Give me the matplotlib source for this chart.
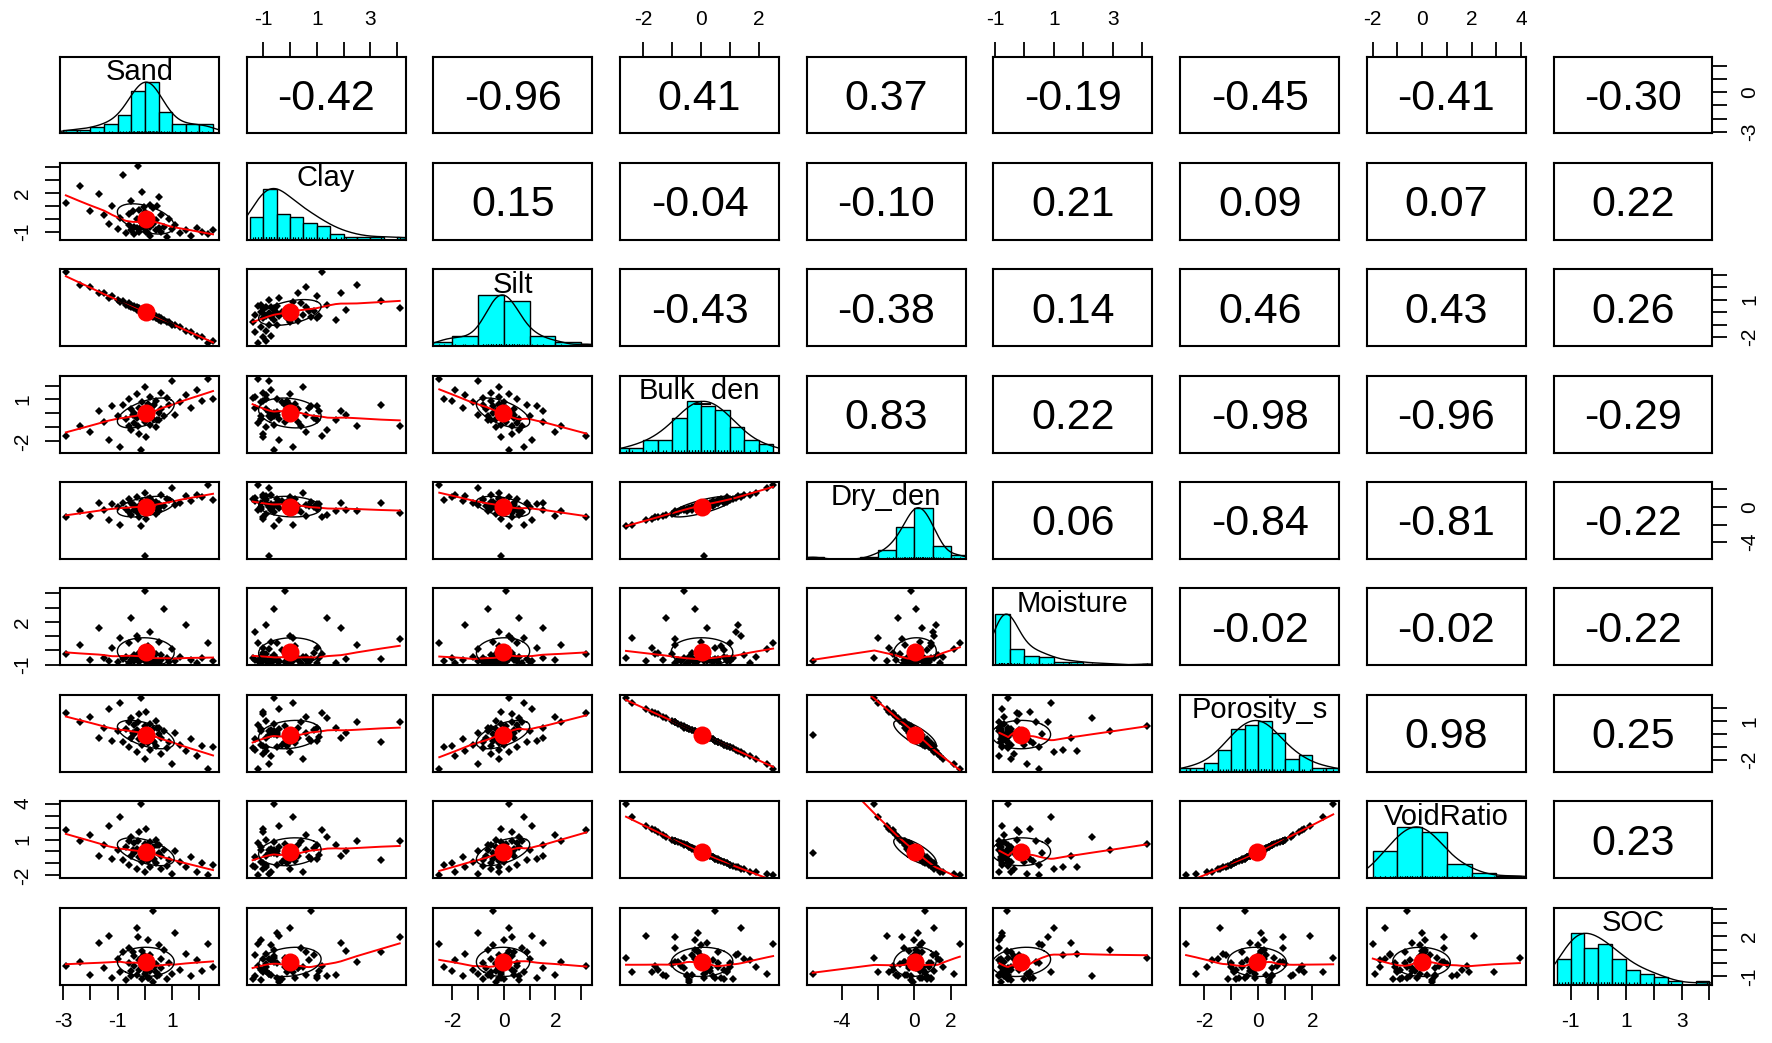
import numpy as np
import matplotlib.pyplot as plt

plt.rcParams['font.family'] = ['Liberation Sans', 'DejaVu Sans']

names = ["Sand", "Clay", "Silt", "Bulk_den", "Dry_den", "Moisture", "Porosity_s", "VoidRatio", "SOC"]

# standardised values, one list per variable
sand = [-2.9, -2.4, -2.0, -1.7, -1.5, -1.3, -1.2, -1.0, -0.9, -0.8,
        -0.7, -0.6, -0.6, -0.5, -0.5, -0.4, -0.4, -0.3, -0.3, -0.2,
        -0.2, -0.1, -0.1, 0.0, 0.0, 0.0, 0.1, 0.1, 0.2, 0.2,
        0.2, 0.3, 0.3, 0.4, 0.4, 0.5, 0.5, 0.6, 0.6, 0.7,
        0.8, 0.9, 1.0, 1.1, 1.3, 1.5, 1.7, 1.9, 2.1, 2.3,
        2.5, -0.05, 0.15, -0.25, 0.35, -0.45, 0.05, 0.25, -0.15, 0.45]
clay = [1.2, 2.5, 0.6, 1.9, 0.3, -0.4, 1.0, -0.8, 0.1, 3.4,
        -1.1, -0.5, 0.4, -0.9, 1.4, -0.6, -1.2, 0.0, -0.7, 0.7,
        -1.0, -0.3, 2.1, -0.8, -0.2, 0.5, -1.1, 0.2, -0.6, 1.1,
        -1.3, -0.4, 0.8, -0.9, -0.1, -0.7, 1.7, -1.0, 0.3, -0.6,
        -1.4, 0.0, -0.8, -0.5, -1.1, -0.9, -1.3, -0.7, -1.0, -1.2,
        -0.9, 0.9, -0.5, 4.1, -0.2, 0.6, -1.0, 0.1, -0.6, 1.0]
silt = [3.2, 2.2, 2.0, 1.5, 1.5, 1.1, 1.3, 1.0, 0.8, 0.9,
        0.6, 0.5, 0.7, 0.4, 0.6, 0.3, 0.5, 0.2, 0.4, 0.1,
        0.3, 0.0, 0.2, -0.1, 0.1, -0.2, 0.0, -0.2, -0.1, -0.3,
        -0.2, -0.3, -0.4, -0.3, -0.5, -0.4, -0.6, -0.5, -0.7, -0.6,
        -0.8, -0.8, -1.0, -1.0, -1.2, -1.5, -1.6, -1.9, -2.0, -2.5,
        -2.3, 0.1, -0.1, 0.3, -0.2, 0.4, -0.1, -0.3, 0.2, -0.5]
bulk_den = [-1.6, -0.9, -1.3, 0.2, -0.6, -1.9, 0.5, -0.2, -2.4, 0.6,
            -0.4, 1.0, -0.9, 0.3, -1.2, 0.0, -0.7, 1.4, -0.3, 0.4,
            -1.5, 0.8, -0.1, 0.1, -0.6, 1.9, -0.2, 0.7, -0.8, 0.2,
            1.2, -0.4, 0.5, -1.0, 0.9, 0.0, -0.5, 1.5, 0.3, -0.2,
            1.1, 0.6, 2.3, -0.1, 0.8, 1.3, 0.4, 1.7, 0.9, 2.5,
            1.0, -0.3, 0.1, -0.9, 0.6, -0.1, -1.7, 0.2, -2.6, -0.5]
dry_den = [-1.2, -0.5, -1.0, 0.4, -0.3, -1.5, 0.3, 0.0, -2.0, 0.4,
           -0.2, 0.9, -0.6, 0.5, -0.9, 0.2, -0.3, 1.1, -0.4, 0.1,
           -1.2, 0.7, -0.3, -5.6, -0.2, 1.6, 0.0, 0.9, -0.6, 0.3,
           1.0, -0.1, 0.6, -0.8, 0.6, 0.3, -0.5, 1.3, 0.1, 0.1,
           0.9, 0.8, 2.2, 0.2, 0.5, 1.2, 0.7, 1.4, 1.1, 2.5,
           0.8, 0.0, 0.4, -0.7, 0.5, 0.2, -1.4, -0.1, -2.2, -0.2]
moisture = [-0.25, 0.4, -0.7, 1.6, -0.55, -0.75, 0.2, -0.8, 0.9, -0.6,
            -0.45, 0.5, -0.85, -0.7, 2.3, -0.35, -0.75, 1.0, -0.55, -0.8,
            -0.2, 0.0, -0.6, -0.75, 4.15, -0.45, -0.85, 0.3, -0.7, -0.55,
            1.3, -0.8, -0.6, -0.25, -0.75, 0.6, -0.85, -0.35, -0.7, 2.9,
            -0.55, -0.8, 0.1, -0.75, -0.45, 1.8, -0.7, -0.85, -0.55, 0.5,
            -0.75, -0.2, -0.6, 0.8, -0.8, -0.45, 0.2, -0.75, -0.55, -0.85]
porosity_s = [1.6, 0.9, 1.3, -0.3, 0.5, 1.9, -0.5, 0.2, 2.4, -0.6,
              0.4, -1.0, 0.9, -0.3, 1.2, 0.0, 0.7, -1.4, 0.3, -0.4,
              1.5, -0.8, 0.1, -0.1, 0.6, -1.9, 0.2, -0.7, 0.8, -0.2,
              -1.2, 0.4, -0.5, 1.0, -0.9, 0.0, 0.5, -1.5, -0.3, 0.2,
              -1.1, -0.6, -2.3, 0.1, -0.8, -1.3, -0.4, -1.7, -0.9, -2.66,
              -1.0, 0.3, -0.1, 0.9, -0.6, 0.1, 1.7, -0.2, 2.77, 0.5]
void_ratio = [1.8, 0.9, 1.4, -0.4, 0.5, 2.1, -0.6, 0.1, 2.9, -0.7,
              0.4, -1.1, 0.9, -0.4, 1.2, -0.1, 0.7, -1.5, 0.2, -0.5,
              1.6, -0.9, 0.0, -0.1, 0.6, -1.7, 0.1, -0.8, 0.8, -0.3,
              -1.3, 0.4, -0.6, 1.0, -1.0, -0.1, 0.5, -1.5, -0.4, 0.1,
              -1.2, -0.7, -1.9, 0.0, -0.9, -1.3, -0.5, -1.7, -1.0, -2.0,
              -1.1, 0.3, -0.2, 0.9, -0.6, 0.1, 1.9, -0.2, 3.96, 0.5]
soc = [-0.2, 0.1, -0.9, 1.5, -0.4, 2.0, -1.1, 0.3, -0.7, 0.8,
       -1.3, 0.0, 1.1, -0.6, -1.0, 0.5, -0.2, 2.6, -0.9, 0.2,
       -0.5, -1.2, 0.9, -0.8, 0.4, -0.3, 1.7, -1.1, 0.1, -0.6,
       0.6, -1.4, 3.9, -0.1, -0.7, 1.3, -0.9, 0.3, -0.4, 1.0,
       -1.2, 0.0, -0.8, 2.2, -0.5, 0.7, -1.0, 0.2, -0.6, 1.4,
       -0.3, 0.6, -1.1, 1.9, -0.3, 0.8, -0.7, 0.0, 0.4, -1.0]

data = [np.array(v) for v in [sand, clay, silt, bulk_den, dry_den, moisture, porosity_s, void_ratio, soc]]

# correlations printed in the upper panels, row by row
cor_text = [
    ["-0.42", "-0.96", "0.41", "0.37", "-0.19", "-0.45", "-0.41", "-0.30"],
    ["0.15", "-0.04", "-0.10", "0.21", "0.09", "0.07", "0.22"],
    ["-0.43", "-0.38", "0.14", "0.46", "0.43", "0.26"],
    ["0.83", "0.22", "-0.98", "-0.96", "-0.29"],
    ["0.06", "-0.84", "-0.81", "-0.22"],
    ["-0.02", "-0.02", "-0.22"],
    ["0.98", "0.25"],
    ["0.23"],
]

# axis ticks of each variable and which of them carry a label
ticks = [range(-3, 3), range(-1, 5), range(-2, 4), range(-2, 3), [-4, -2, 0, 2],
         range(-1, 5), range(-2, 3), range(-2, 5), range(-1, 5)]
x_shown = [[-3, -1, 1], [-1, 1, 3], [-2, 0, 2], [-2, 0, 2], [-4, 0, 2],
           [-1, 1, 3], [-2, 0, 2], [-2, 0, 2, 4], [-1, 1, 3]]
y_shown = [[-3, 0], [-1, 2], [-2, 1], [-2, 1], [-4, 0],
           [-1, 2], [-2, 1], [-2, 1, 4], [-1, 2]]
bin_width = [0.5, 0.5, 1.0, 0.5, 1.0, 0.5, 0.5, 1.0, 0.5]


def lowess(x, y, f=2/3, it=3):
    o = np.argsort(x)
    x = x[o]
    y = y[o]
    n = len(x)
    r = int(np.ceil(f * n))
    h = np.array([np.sort(np.abs(x - x[i]))[r - 1] for i in range(n)])
    h = np.maximum(h, 1e-9)
    w = np.clip(np.abs(x[None, :] - x[:, None]) / h[:, None], 0, 1)
    w = (1 - w ** 3) ** 3
    delta = np.ones(n)
    yest = np.zeros(n)
    for _ in range(it + 1):
        for i in range(n):
            wi = w[i] * delta
            sw = wi.sum()
            mx = (wi * x).sum() / sw
            my = (wi * y).sum() / sw
            vx = (wi * (x - mx) ** 2).sum()
            if vx > 1e-12:
                b = (wi * (x - mx) * (y - my)).sum() / vx
            else:
                b = 0.0
            yest[i] = my + b * (x[i] - mx)
        res = y - yest
        s = np.median(np.abs(res))
        if s == 0:
            break
        d = np.clip(res / (6 * s), -1, 1)
        delta = (1 - d ** 2) ** 2
    return x, yest


nv = len(names)
lims = []
for v in data:
    span = v.max() - v.min()
    lims.append((v.min() - 0.04 * span, v.max() + 0.04 * span))

W, H = 1772, 1043
fig = plt.figure(figsize=(W / 100, H / 100), dpi=100)

x0, dx, pw = 60, 186.7, 158.9
y0, dy, ph = 56.5, 106.4, 76.9

for i in range(nv):
    for j in range(nv):
        ax = fig.add_axes([(x0 + j * dx) / W, 1 - (y0 + i * dy + ph) / H, pw / W, ph / H])
        ax.set_xlim(lims[j])
        ax.set_ylim(lims[i])
        ax.set_xticks([])
        ax.set_yticks([])
        for sp in ax.spines.values():
            sp.set_linewidth(1.5)

        if i == j:
            v = data[i]
            lo, hi = lims[i]
            w = bin_width[i]
            edges = np.arange(np.floor(v.min() / w) * w, np.ceil(v.max() / w) * w + w / 2, w)
            counts, edges = np.histogram(v, bins=edges)
            heights = counts / counts.max() / 1.5 * (hi - lo)
            ax.bar(edges[:-1], heights, width=w, align='edge', bottom=lo,
                   color='cyan', edgecolor='black', linewidth=1.0)
            # density line (bw nrd, adjust 1.2)
            sd = v.std(ddof=1)
            iqr = np.subtract(*np.percentile(v, [75, 25]))
            bw = 1.2 * 1.06 * min(sd, iqr / 1.34) * len(v) ** (-0.2)
            gx = np.linspace(v.min() - 3 * bw, v.max() + 3 * bw, 300)
            dens = np.exp(-0.5 * ((gx[:, None] - v[None, :]) / bw) ** 2).sum(axis=1)
            dens = dens / dens.max()
            ax.plot(gx, lo + dens / 1.5 * (hi - lo), color='black', lw=1.0)
            ax.vlines(v, lo, lo + 0.03 * (hi - lo), color='black', lw=0.8)
            ax.text(0.5, 0.8, names[i], transform=ax.transAxes, ha='center', va='center',
                    fontsize=21)
        elif i < j:
            ax.text(0.5, 0.45, cor_text[i][j - i - 1], transform=ax.transAxes,
                    ha='center', va='center', fontsize=31)
        else:
            xv, yv = data[j], data[i]
            ax.plot(xv, yv, 'D', color='black', ms=4.0, mew=0)
            sx, sy = lowess(xv, yv)
            ax.plot(sx, sy, color='red', lw=1.4)
            r = np.corrcoef(xv, yv)[0, 1]
            th = np.sign(r) / np.sqrt(2) if abs(r) > 0 else 1 / np.sqrt(2)
            shape = np.diag([np.sqrt(1 + r), np.sqrt(1 - r)]) @ np.array([[th, th], [-th, th]])
            a = np.linspace(0, 2 * np.pi, 52)
            ell = np.column_stack([np.cos(a), np.sin(a)]) @ shape
            ax.plot(ell[:, 0] * xv.std(ddof=1) + xv.mean(), ell[:, 1] * yv.std(ddof=1) + yv.mean(),
                    color='black', lw=1.0)
            ax.plot(xv.mean(), yv.mean(), 'o', color='red', ms=13, mew=0)

        # outer axes, alternating sides as in R pairs()
        if i == 0 and j % 2 == 1:
            ax.xaxis.set_ticks_position('top')
        if i == nv - 1 and j % 2 == 0:
            ax.xaxis.set_ticks_position('bottom')
        if (i == 0 and j % 2 == 1) or (i == nv - 1 and j % 2 == 0):
            tk = list(ticks[j])
            ax.set_xticks(tk)
            ax.set_xticklabels([str(t) if t in x_shown[j] else '' for t in tk])
        if j == 0 and i % 2 == 1:
            ax.yaxis.set_ticks_position('left')
        if j == nv - 1 and i % 2 == 0:
            ax.yaxis.set_ticks_position('right')
        if (j == 0 and i % 2 == 1) or (j == nv - 1 and i % 2 == 0):
            tk = list(ticks[i])
            ax.set_yticks(tk)
            ax.set_yticklabels([str(t) if t in y_shown[i] else '' for t in tk],
                               rotation=90, va='center')
        ax.tick_params(direction='out', length=11, width=1.3, labelsize=15, pad=9)

fig.savefig('out.png', dpi=100)
